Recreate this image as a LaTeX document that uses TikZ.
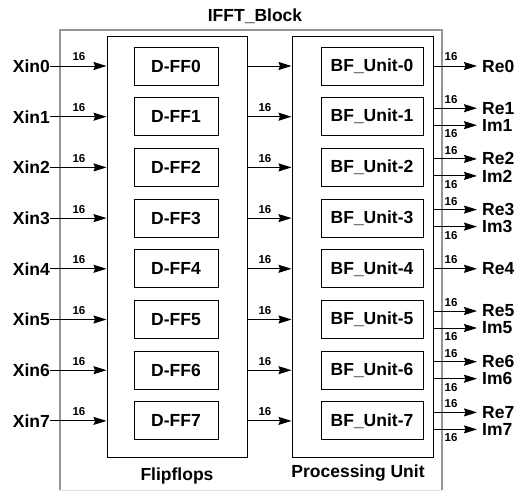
\documentclass[tikz,border=0pt]{standalone}
\usepackage{fontspec}
\setmainfont{Liberation Sans}
\usetikzlibrary{arrows.meta}
\begin{document}
\begin{tikzpicture}[x=1pt,y=-1pt,
  txt/.style={font=\fontsize{17.5}{20}\selectfont\bfseries},
  lbl/.style={font=\fontsize{11.5}{13}\selectfont\bfseries, inner sep=0pt},
  unitbox/.style={draw, line width=0.9pt, minimum height=38pt, txt, inner sep=0pt},
  cont/.style={draw, line width=1pt, inner sep=0pt},
  sig/.style={line width=1pt, -{Stealth[length=13pt,width=8pt,inset=1.5pt]}},
  io/.style={txt, inner sep=0pt}]
\useasboundingbox (0,0) rectangle (520,491);
% outer block
\draw[line width=2pt, draw={rgb,255:red,150;green,150;blue,150}] (60,490) -- (60,30) -- (442,30) -- (442,490);
\draw[line width=1pt, draw={rgb,255:red,225;green,225;blue,225}] (60,490) -- (442,490);
\node[txt] (title) at (255,16) {IFFT\_Block};
% containers
\node[cont, minimum width=140pt, minimum height=421pt] (ff) at (177,246.5) {};
\node[cont, minimum width=141pt, minimum height=421pt] (pu) at (362.5,246.5) {};
\node[txt] (fflab) at (177,476) {Flipflops};
\node[txt] (pulab) at (358,473) {Processing Unit};
\foreach \i in {0,...,7} {
  \pgfmathsetmacro{\c}{66+50.7*\i}
  \node[unitbox, minimum width=84pt] (d\i) at (176,\c) {D-FF\i};
  \node[unitbox, minimum width=102pt] (b\i) at (372,\c) {BF\_Unit-\i};
  \node[io, anchor=east] (x\i) at (50,\c) {Xin\i};
  \draw[sig] (x\i.east) -- (ff.west |- x\i.east);
  \node[lbl] (xl\i) at (79,\c-9) {16};
  \draw[sig] (ff.east |- d\i.east) -- (pu.west |- d\i.east);
}
\foreach \i in {1,...,7} {
  \pgfmathsetmacro{\c}{66+50.7*\i}
  \node[lbl] (ml\i) at (265,\c-9) {16};
}
% single outputs
\foreach \i in {0,4} {
  \pgfmathsetmacro{\c}{66+50.7*\i}
  \node[io, anchor=west] (re\i) at (482,\c) {Re\i};
  \draw[sig, shorten >=5pt] (pu.east |- re\i.west) -- (re\i.west);
  \node[lbl] (rl\i) at (451,\c-9) {16};
}
% double outputs
\foreach \i in {1,2,3,5,6,7} {
  \pgfmathsetmacro{\c}{66+50.7*\i}
  \node[io, anchor=west] (re\i) at (482,\c-8.5) {Re\i};
  \node[io, anchor=west] (im\i) at (482,\c+8.5) {Im\i};
  \draw[sig, shorten >=5pt] (pu.east |- re\i.west) -- (re\i.west);
  \draw[sig, shorten >=5pt] (pu.east |- im\i.west) -- (im\i.west);
  \node[lbl] (rl\i) at (451,\c-17) {16};
  \node[lbl] (il\i) at (451,\c+17) {16};
}
\end{tikzpicture}
\end{document}
